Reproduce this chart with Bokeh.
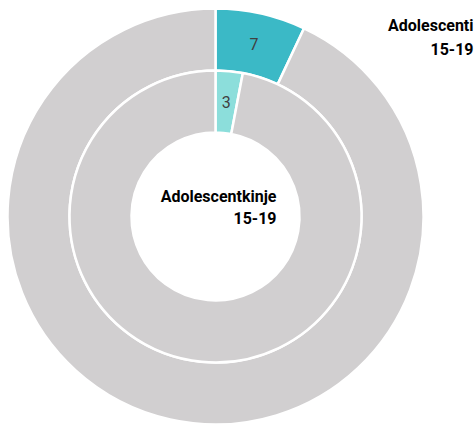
import numpy as np
from bokeh.plotting import figure
from bokeh.models import ColumnDataSource
from bokeh.core.properties import value
from bokeh.embed import file_html
from bokeh.resources import INLINE

# Data
outer_cats = ["Adolescenti 15-19", "Ostalo"]
outer_vals = [7, 93]
inner_cats = ["Adolescentkinje 15-19", "Ostalo"]
inner_vals = [3, 97]
outer_colors = ["#3BB9C6", "#D1CFD0"]
inner_colors = ["#8CDEDB", "#D1CFD0"]
outer_title = ["Adolescenti", "15-19"]
inner_title = ["Adolescentkinje", "15-19"]

W, H = 474, 425
cx, cy = 215, H - 216
R_out, R_mid_o = 208, 146
R_mid_i, R_in = 146, 84

def angles(vals):
    v = np.array(vals, dtype=float)
    frac = v / v.sum()
    cum = np.concatenate([[0], np.cumsum(frac)])
    start = np.pi / 2 - cum[:-1] * 2 * np.pi
    end = np.pi / 2 - cum[1:] * 2 * np.pi
    return start, end, frac

p = figure(width=W, height=H, x_range=(0, W), y_range=(0, H),
           output_backend="svg", toolbar_location=None,
           min_border=0, outline_line_color=None)
p.axis.visible = False
p.grid.visible = False
p.background_fill_color = "white"

for vals, cols, r0, r1 in [
    (outer_vals, outer_colors, R_mid_o, R_out),
    (inner_vals, inner_colors, R_in, R_mid_i),
]:
    s, e, frac = angles(vals)
    src = ColumnDataSource(dict(start=s, end=e, color=cols))
    p.annular_wedge(x=cx, y=cy, inner_radius=r0, outer_radius=r1,
                    start_angle="start", end_angle="end", direction="clock",
                    fill_color="color", line_color="white", line_width=2.5,
                    source=src)
    mid = (s[0] + e[0]) / 2
    rm = (r0 + r1) / 2
    p.text(x=[cx + rm * np.cos(mid)], y=[cy + rm * np.sin(mid)],
           text=[str(vals[0])], text_align="center", text_baseline="middle",
           text_font=value("Roboto"), text_font_size="16px",
           text_color="#404040")

# Series titles
p.text(x=[473, 473], y=[H - 25, H - 48], text=outer_title,
       text_align="right", text_baseline="middle",
       text_font=value("Roboto"), text_font_style="bold",
       text_font_size="16px", text_color="#000000")
p.text(x=[276, 276], y=[H - 196, H - 217], text=inner_title,
       text_align="right", text_baseline="middle",
       text_font=value("Roboto"), text_font_style="bold",
       text_font_size="16px", text_color="#000000")

open("out.html", "w").write(file_html(p, INLINE))
